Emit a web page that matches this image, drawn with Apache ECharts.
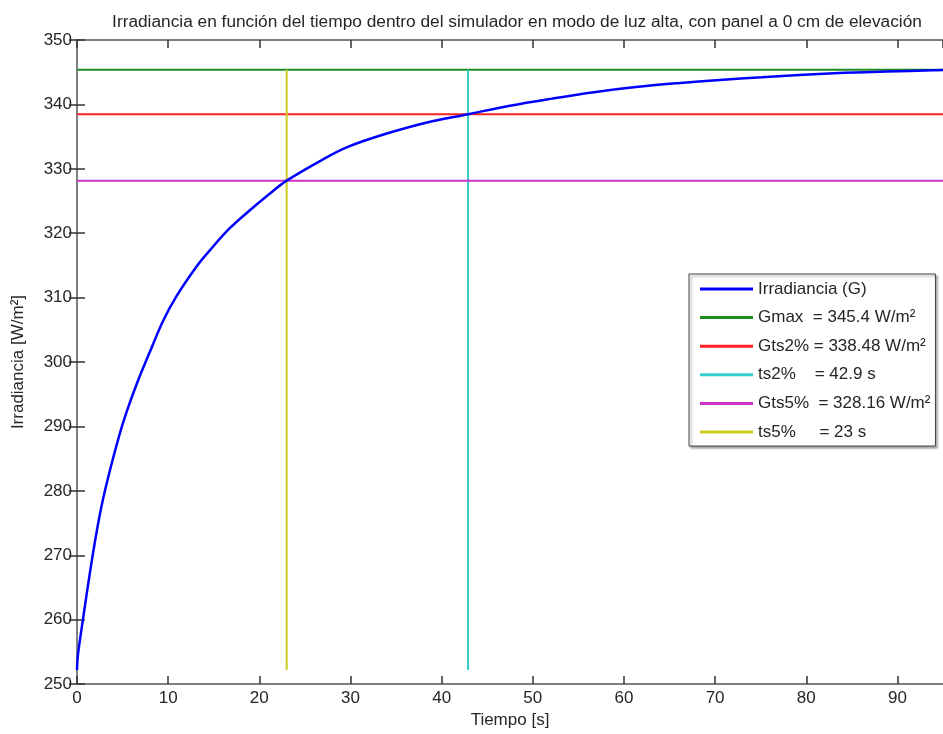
<!DOCTYPE html>
<html>
<head>
<meta charset="utf-8">
<script src="https://cdn.jsdelivr.net/npm/echarts@6/dist/echarts.min.js"></script>
<style>
html,body{margin:0;padding:0;background:#fff;}
#chart{width:943px;height:734px;}
</style>
</head>
<body>
<div id="chart"></div>
<script>
// ---- data ----
const titleText = 'Irradiancia en función del tiempo dentro del simulador en modo de luz alta, con panel a 0 cm de elevación';
const xName = 'Tiempo [s]';
const yName = 'Irradiancia [W/m²]';
const seriesNames = [
  'Irradiancia (G)',
  'Gmax  = 345.4 W/m²',
  'Gts2% = 338.48 W/m²',
  'ts2%    = 42.9 s',
  'Gts5%  = 328.16 W/m²',
  'ts5%     = 23 s'
];
const timeS = [0, 0.1, 0.7, 1.45, 2.2, 2.9, 4.0, 5.1, 6.55, 8.0, 9.45, 10.9, 13.1, 14.55, 16.7, 18.9, 21.1, 23.0,
  26.9, 29.7, 33.8, 38.4, 42.9, 47.5, 52.1, 56.7, 61.3, 65.9, 70.5, 75.1, 79.7, 84.2, 88.8, 93.9, 95];
const irradiance = [252.2, 254.5, 260.5, 267.6, 274.0, 279.0, 285.3, 290.8, 296.6, 301.6, 306.4, 310.2, 314.8, 317.3, 320.7, 323.5, 326.1, 328.16,
  331.4, 333.4, 335.4, 337.2, 338.48, 339.8, 340.9, 341.9, 342.7, 343.3, 343.8, 344.2, 344.6, 344.9, 345.1, 345.3, 345.35];
const Gmax = 345.4;
const Gts2 = 338.48;
const ts2 = 42.9;
const Gts5 = 328.16;
const ts5 = 23;
const G0 = 252.2;
const xRange = [0, 95];
const yRange = [250, 350];
const tickStep = 10;

// ---- chart ----
const colors = ['#0000ff', '#1e8c1e', '#ff2020', '#33cccc', '#cc33cc', '#cccc22'];
const font = 'Liberation Sans, Arial, sans-serif';
const txt = '#262626';

const curve = timeS.map((t, i) => [t, irradiance[i]]);
const hLine = v => [[xRange[0], v], [xRange[1], v]];
const vLine = t => [[t, G0], [t, Gmax]];
const lineData = [curve, hLine(Gmax), hLine(Gts2), vLine(ts2), hLine(Gts5), vLine(ts5)];

const chart = echarts.init(document.getElementById('chart'), null, {renderer: 'canvas'});

const baseAxis = {
  type: 'value',
  interval: tickStep,
  axisLine: {show: true, lineStyle: {color: '#808080', width: 2}},
  axisTick: {show: true, inside: true, length: 8, lineStyle: {color: '#333', width: 1.5}},
  splitLine: {show: false}
};

chart.setOption({
  animation: false,
  backgroundColor: '#fff',
  title: {
    text: titleText,
    left: 512,
    textAlign: 'center',
    top: 9,
    textStyle: {fontFamily: font, fontSize: 17.3, fontWeight: 'normal', color: txt}
  },
  grid: {left: 77, right: -6, top: 40, bottom: 48, containLabel: false},
  legend: {
    orient: 'vertical',
    left: 689,
    top: 274,
    padding: [5, 5, 4, 11],
    itemGap: 8.6,
    itemWidth: 53,
    itemHeight: 3,
    icon: 'rect',
    backgroundColor: '#fff',
    borderColor: '#444',
    borderWidth: 1,
    shadowColor: 'rgba(0,0,0,0.35)',
    shadowBlur: 2,
    shadowOffsetX: 2,
    shadowOffsetY: 2,
    textStyle: {fontFamily: font, fontSize: 17, color: txt, lineHeight: 20},
    data: seriesNames
  },
  xAxis: [
    Object.assign({}, baseAxis, {
      min: xRange[0], max: xRange[1], position: 'bottom',
      name: xName, nameLocation: 'middle', nameGap: 25,
      nameTextStyle: {fontFamily: font, fontSize: 17, color: txt},
      axisLabel: {fontFamily: font, fontSize: 17, color: txt, margin: 6, showMaxLabel: false}
    }),
    Object.assign({}, baseAxis, {
      min: xRange[0], max: xRange[1], position: 'top',
      axisLabel: {show: false}
    })
  ],
  yAxis: [
    Object.assign({}, baseAxis, {
      min: yRange[0], max: yRange[1], position: 'left',
      name: yName, nameLocation: 'middle', nameGap: 50,
      nameTextStyle: {fontFamily: font, fontSize: 17, color: txt},
      axisLabel: {fontFamily: font, fontSize: 17, color: txt, margin: 5}
    }),
    Object.assign({}, baseAxis, {
      min: yRange[0], max: yRange[1], position: 'right',
      axisLabel: {show: false}
    })
  ],
  series: seriesNames.map((name, i) => ({
    name: name,
    type: 'line',
    xAxisIndex: 0,
    yAxisIndex: 0,
    data: lineData[i],
    showSymbol: false,
    symbol: 'none',
    smooth: i === 0 ? 0.35 : false,
    color: colors[i],
    lineStyle: {color: colors[i], width: i === 0 ? 2.5 : 2},
    z: i === 0 ? 3 : 2
  }))
});
</script>
</body>
</html>
